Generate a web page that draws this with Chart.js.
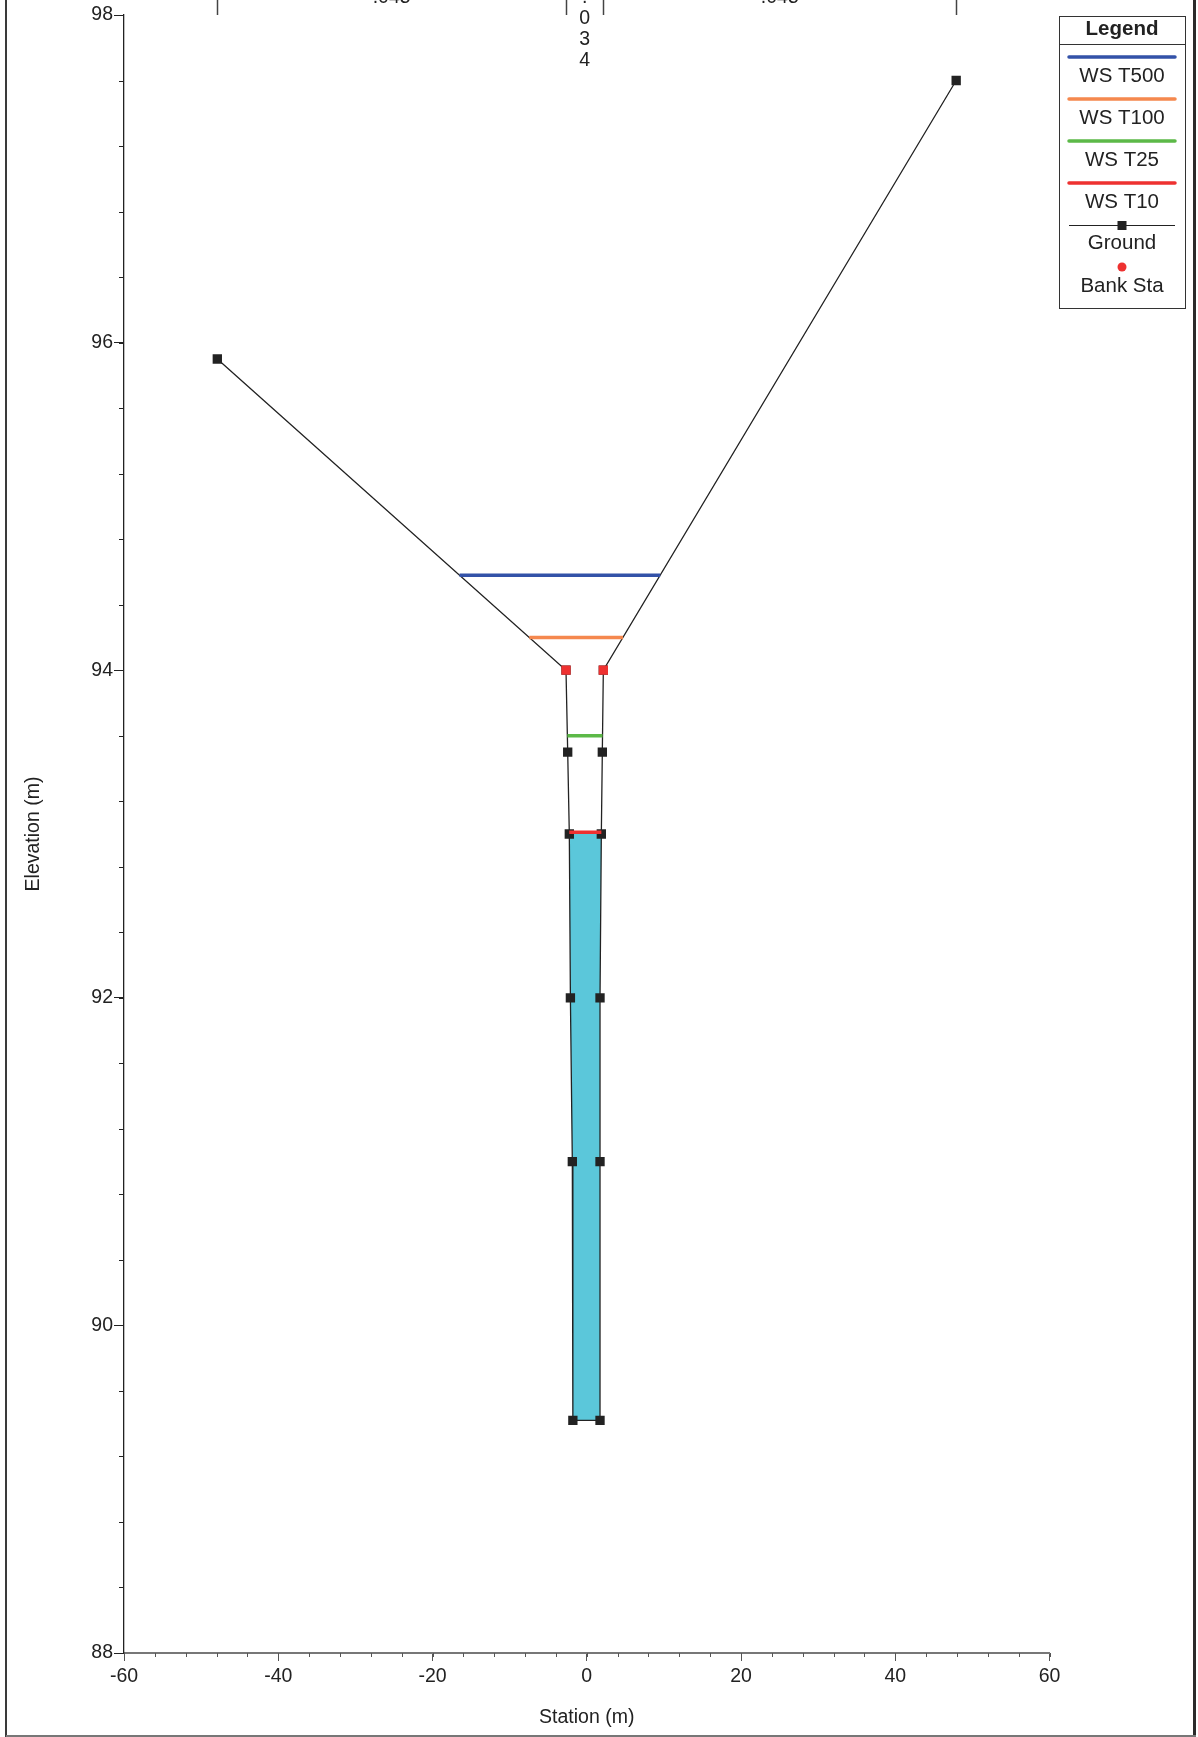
<!DOCTYPE html>
<html>
<head>
<meta charset="utf-8">
<script src="https://cdn.jsdelivr.net/npm/chart.js@4.4.0/dist/chart.umd.min.js"></script>
<style>
  html, body { margin:0; padding:0; background:#fff; }
  #wrap { width:1198px; height:1737px; position:relative; }
</style>
</head>
<body>
<div id="wrap"><canvas id="xs" width="1198" height="1737"></canvas></div>
<script>
/* ── Data ── */
const groundStation = [-47.9, -2.69, -2.47, -2.26, -2.12, -1.87, -1.8, 1.72, 1.72, 1.72, 1.89, 2.02, 2.15, 47.9];
const groundElev    = [95.9, 94.0, 93.5, 93.0, 92.0, 91.0, 89.42, 89.42, 91.0, 92.0, 93.0, 93.5, 94.0, 97.6];

const bankStation = [-2.69, 2.15];
const bankElev    = [94.0, 94.0];

const wsNames  = ['WS T500', 'WS T100', 'WS T25', 'WS T10'];
const wsElev   = [94.58, 94.20, 93.60, 93.01];
const wsColors = ['#3352a8', '#f5884e', '#5cb948', '#ee3130'];
const wsFilled = 'WS T10';

const nStations = [-47.9, -2.69, 2.15, 47.9];
const nValues   = ['.045', '.034', '.045'];

const xTicks = [-60, -40, -20, 0, 20, 40, 60];
const yTicks = [88, 90, 92, 94, 96, 98];
const xMinorStep = 4;
const yMinorStep = 0.4;

const FONT = '"Liberation Sans", Arial, sans-serif';
const INK = '#222';

/* ── Water surface ends from the ground line ── */
function wsEnds(elev) {
  let lo = 0;
  groundElev.forEach((e, i) => { if (e < groundElev[lo]) lo = i; });
  let i = lo;
  while (i > 0 && groundElev[i - 1] < elev) i--;
  let j = lo;
  while (j < groundElev.length - 1 && groundElev[j + 1] < elev) j++;
  const lerp = (a, b) => groundStation[a] + (elev - groundElev[a]) / (groundElev[b] - groundElev[a]) * (groundStation[b] - groundStation[a]);
  return { left: lerp(i - 1, i), right: lerp(j + 1, j), from: i, to: j };
}

const datasets = [];

// water fill under the lowest profile
const fillElev = wsElev[wsNames.indexOf(wsFilled)];
const fe = wsEnds(fillElev);
const fillPts = [{ x: fe.left, y: fillElev }];
for (let k = fe.from; k <= fe.to; k++) fillPts.push({ x: groundStation[k], y: groundElev[k] });
fillPts.push({ x: fe.right, y: fillElev });
datasets.push({
  label: 'fill', data: fillPts, showLine: true, fill: 'shape',
  backgroundColor: '#5bc7da', borderWidth: 0, pointRadius: 0, order: 10
});

// ground
datasets.push({
  label: 'Ground',
  data: groundStation.map((s, k) => ({ x: s, y: groundElev[k] })),
  showLine: true, borderColor: INK, borderWidth: 1.3,
  pointStyle: 'rect', pointRadius: 6.6, backgroundColor: INK, pointBorderWidth: 0,
  order: 8
});

// water surfaces
wsNames.forEach((name, k) => {
  const e = wsEnds(wsElev[k]);
  datasets.push({
    label: name,
    data: [{ x: e.left, y: wsElev[k] }, { x: e.right, y: wsElev[k] }],
    showLine: true, borderColor: wsColors[k], borderWidth: 3.5, pointRadius: 0,
    order: 4
  });
});

// bank stations
datasets.push({
  label: 'Bank Sta',
  data: bankStation.map((s, k) => ({ x: s, y: bankElev[k] })),
  showLine: false, pointStyle: 'rect', pointRadius: 6.6,
  backgroundColor: '#ee3130', pointBorderWidth: 0, order: 1
});

/* ── Extras: frame, minor ticks, n values, legend ── */
const decor = {
  id: 'decor',
  afterDraw(chart) {
    const { ctx, chartArea: a, scales: { x, y } } = chart;
    ctx.save();

    // minor ticks
    ctx.strokeStyle = INK; ctx.lineWidth = 1;
    for (let i = 0; y.min + i * yMinorStep <= y.max + 1e-6; i++) {
      const py = Math.round(y.getPixelForValue(y.min + i * yMinorStep)) + 0.5;
      ctx.beginPath(); ctx.moveTo(a.left - 5, py); ctx.lineTo(a.left, py); ctx.stroke();
    }
    ctx.strokeStyle = '#555';
    for (let i = 0; x.min + i * xMinorStep <= x.max + 1e-6; i++) {
      const px = Math.round(x.getPixelForValue(x.min + i * xMinorStep)) + 0.5;
      ctx.beginPath(); ctx.moveTo(px, a.bottom); ctx.lineTo(px, a.bottom + 4); ctx.stroke();
    }

    // Manning's n markers at the top
    ctx.strokeStyle = '#444'; ctx.lineWidth = 1.5;
    nStations.forEach(s => {
      const px = Math.round(x.getPixelForValue(s)) + 0.5;
      ctx.beginPath(); ctx.moveTo(px, 0); ctx.lineTo(px, a.top); ctx.stroke();
    });
    ctx.fillStyle = INK; ctx.font = '19.5px ' + FONT;
    ctx.textAlign = 'center'; ctx.textBaseline = 'alphabetic';
    nValues.forEach((v, k) => {
      const p0 = x.getPixelForValue(nStations[k]), p1 = x.getPixelForValue(nStations[k + 1]);
      const mid = (p0 + p1) / 2;
      if (p1 - p0 > 60) {
        ctx.fillText(v, mid, 3);
      } else {
        v.split('').forEach((ch, c) => ctx.fillText(ch, mid, 3 + c * 21));
      }
    });

    // legend
    const L = 1059, R = 1185, T = 16, B = 308, cx = (L + R) / 2;
    ctx.fillStyle = '#fff'; ctx.fillRect(L, T, R - L, B - T);
    ctx.strokeStyle = '#333'; ctx.lineWidth = 1;
    ctx.strokeRect(L + 0.5, T + 0.5, R - L, B - T);
    ctx.beginPath(); ctx.moveTo(L, 44.5); ctx.lineTo(R, 44.5); ctx.stroke();
    ctx.fillStyle = INK; ctx.textBaseline = 'middle';
    ctx.font = 'bold 20.5px ' + FONT;
    ctx.fillText('Legend', cx, 29);
    ctx.font = '20.5px ' + FONT;
    wsNames.forEach((name, k) => {
      const ly = 57 + k * 42;
      ctx.strokeStyle = wsColors[k]; ctx.lineWidth = 3.5; ctx.lineCap = 'round';
      ctx.beginPath(); ctx.moveTo(1069, ly); ctx.lineTo(1175, ly); ctx.stroke();
      ctx.fillText(name, cx, ly + 19);
    });
    ctx.lineCap = 'butt';
    ctx.strokeStyle = INK; ctx.lineWidth = 1;
    ctx.beginPath(); ctx.moveTo(1069, 225.5); ctx.lineTo(1175, 225.5); ctx.stroke();
    ctx.fillRect(cx - 4.5, 221, 9, 9);
    ctx.fillText('Ground', cx, 243);
    ctx.fillStyle = '#ee3130';
    ctx.beginPath(); ctx.arc(cx, 267, 4.5, 0, Math.PI * 2); ctx.fill();
    ctx.fillStyle = INK;
    ctx.fillText('Bank Sta', cx, 286);

    // outer frame
    ctx.strokeStyle = '#3a3a3a'; ctx.lineWidth = 2;
    ctx.beginPath(); ctx.moveTo(6, 0); ctx.lineTo(6, 1737); ctx.stroke();
    ctx.strokeStyle = '#2b2b2b'; ctx.lineWidth = 3;
    ctx.beginPath(); ctx.moveTo(1194.5, 0); ctx.lineTo(1194.5, 1737); ctx.stroke();
    ctx.strokeStyle = '#777'; ctx.lineWidth = 2;
    ctx.beginPath(); ctx.moveTo(6, 1736); ctx.lineTo(1196, 1736); ctx.stroke();

    ctx.restore();
  }
};

new Chart(document.getElementById('xs'), {
  type: 'scatter',
  data: { datasets },
  options: {
    responsive: false,
    animation: false,
    devicePixelRatio: 1,
    layout: { padding: { left: 10, right: 148.5, top: 15, bottom: 0 } },
    plugins: { legend: { display: false }, tooltip: { enabled: false } },
    elements: { line: { tension: 0 } },
    scales: {
      x: {
        type: 'linear', min: xTicks[0], max: xTicks[xTicks.length - 1],
        afterBuildTicks: s => { s.ticks = xTicks.map(v => ({ value: v })); },
        afterFit: s => { s.height = 84; },
        grid: { drawOnChartArea: false, tickLength: 8, color: '#555' },
        border: { color: '#777', width: 2 },
        ticks: { color: INK, font: { family: FONT, size: 19.5 }, padding: 4, maxRotation: 0 },
        title: { display: true, text: 'Station (m)', color: INK, font: { family: FONT, size: 19.5 }, padding: { top: 0, bottom: 8 } }
      },
      y: {
        type: 'linear', min: yTicks[0], max: yTicks[yTicks.length - 1],
        afterBuildTicks: s => { s.ticks = yTicks.map(v => ({ value: v })); },
        afterFit: s => { s.width = 114; },
        grid: { drawOnChartArea: false, tickLength: 10, color: INK },
        border: { color: INK, width: 1.3 },
        ticks: { color: INK, font: { family: FONT, size: 19.5 }, padding: 1 },
        title: { display: true, text: 'Elevation (m)', color: INK, font: { family: FONT, size: 19.5 }, padding: { top: 12, bottom: 0 } }
      }
    }
  },
  plugins: [decor]
});
</script>
</body>
</html>
